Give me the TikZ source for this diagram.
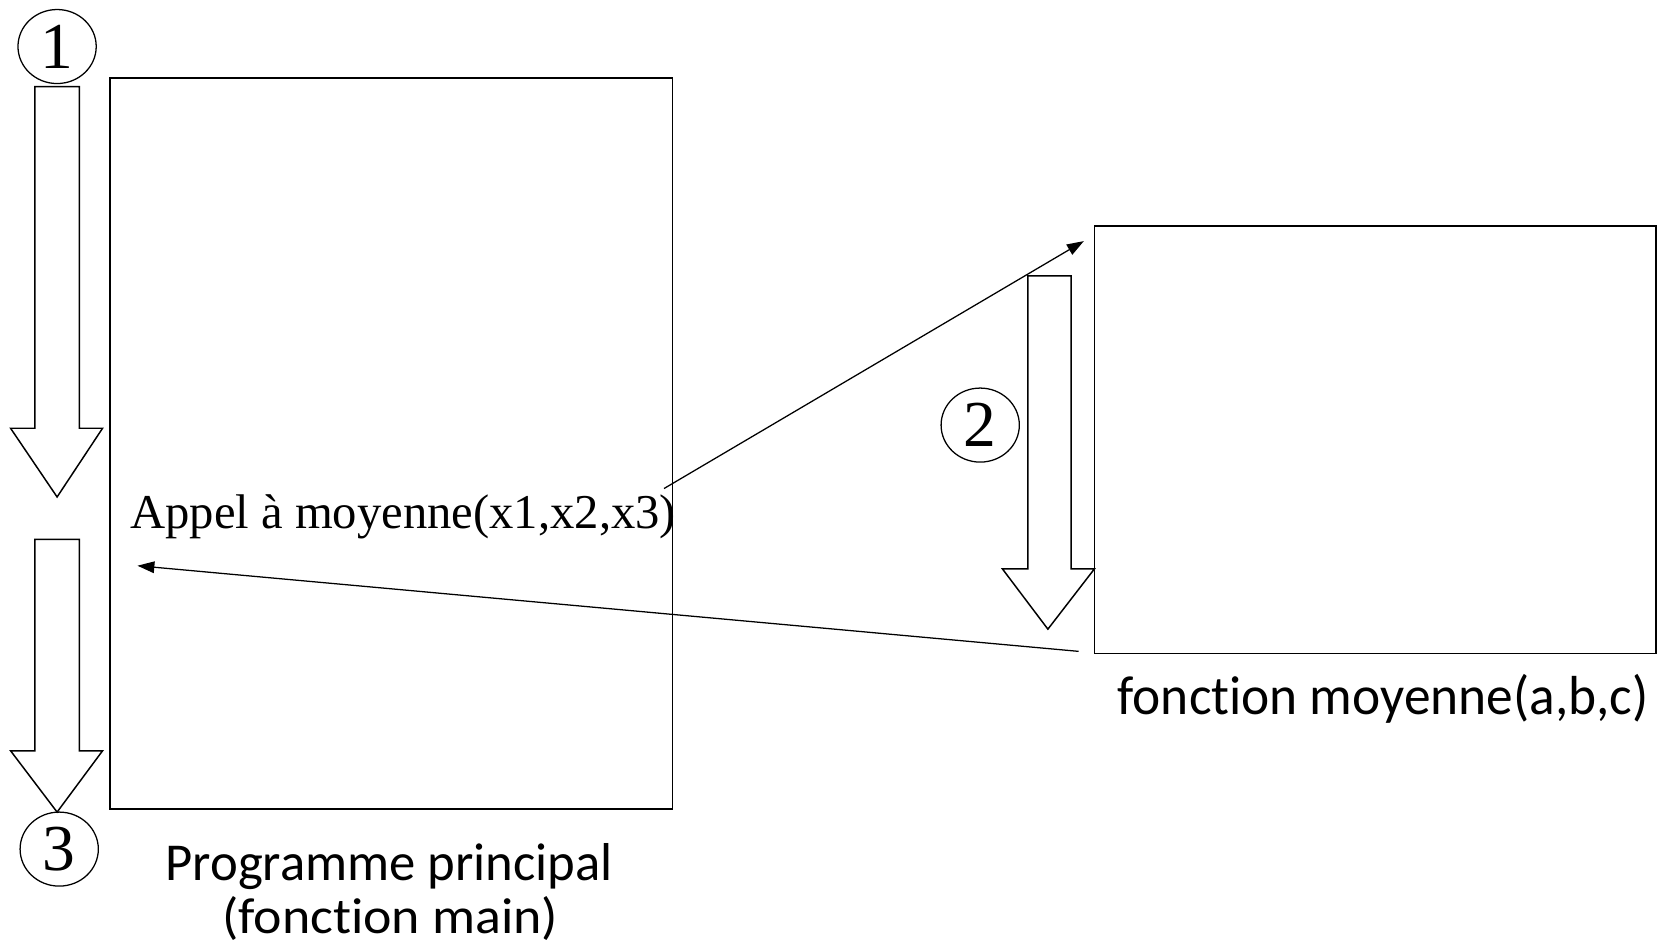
\documentclass[tikz,border=0pt]{standalone}
\usepackage{fontspec}
\usepackage{graphicx}
\setmainfont{Liberation Serif}
\newfontfamily\comicfont[Ligatures={NoCommon,NoRequired,NoContextual}]{Carlito}
\usetikzlibrary{shapes.geometric,arrows.meta}
\begin{document}
\begin{tikzpicture}[x=1pt,y=-1pt,
  box/.style={draw,line width=1.6pt,inner sep=0pt},
  num/.style={draw,ellipse,line width=1.2pt,inner sep=0pt,minimum width=74pt,minimum height=70pt,font=\fontsize{62}{62}\selectfont},
  blockarrow/.style={draw,line width=1.4pt,fill=white,line join=miter},
  conn/.style={line width=1.2pt,-{Triangle[length=16pt,width=11pt]}},
  lbl/.style={inner sep=0pt,anchor=base,font=\comicfont},
  ]
\useasboundingbox (0,0) rectangle (1568,897);
% boxes
\node[box,minimum width=532pt,minimum height=691pt] (main) at (370,419.5) {};
\node[box,minimum width=531pt,minimum height=404pt] (fn) at (1300.5,416) {};
% block arrows
\draw[blockarrow] (33,82) -- (75,82) -- (75,405) -- (97,405) -- (54,470) -- (10,405) -- (33,405) -- cycle;
\draw[blockarrow] (33,510) -- (75,510) -- (75,710) -- (97,710) -- (54,768) -- (10,710) -- (33,710) -- cycle;
\draw[blockarrow] (972,261) -- (1013,261) -- (1013,538) -- (1035,538) -- (991,595) -- (948,538) -- (972,538) -- cycle;
% numbers
\node[num] (c1) at (54,44) {1};
\node[num] (c2) at (927,402) {2};
\node[num] (c3) at (56,803) {3};
% call text
\node[inner sep=0pt,anchor=base west,font=\fontsize{46}{50}\selectfont] (appel) at (123,500) {Appel à moyenne(x1,x2,x3)};
% connectors
\coordinate (callstart) at (628,462);
\coordinate (callend) at (1025,228);
\coordinate (retstart) at (1020,616);
\coordinate (retend) at (130,535);
\draw[conn] (callstart) -- (callend);
\draw[conn] (retstart) -- (retend);
% labels
\node[lbl] (fnlbl) at (1308,676) {\resizebox{502pt}{38pt}{fonction moyenne(a,b,c)}};
\node[lbl] (mainlbl1) at (368,833) {\resizebox{423pt}{35pt}{Programme principal}};
\node[lbl] (mainlbl2) at (369,883) {\resizebox{318pt}{35pt}{(fonction main)}};
\end{tikzpicture}
\end{document}
